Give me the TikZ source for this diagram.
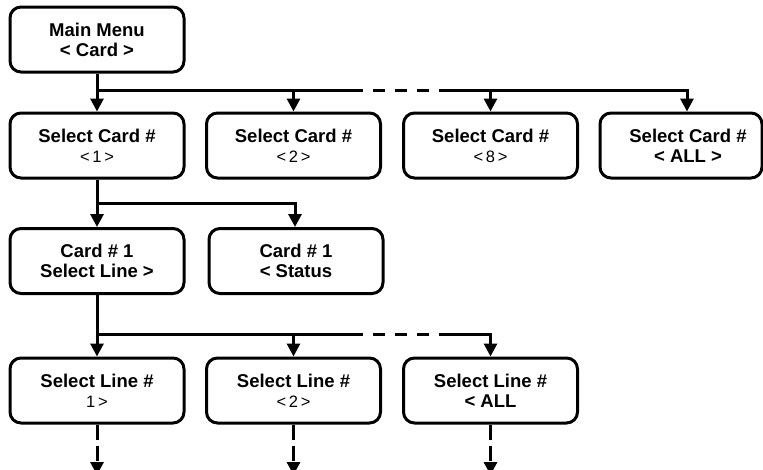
\documentclass[tikz,border=0pt]{standalone}
\usepackage{fontspec}
\setmainfont{Liberation Sans}
\usetikzlibrary{arrows.meta}
\newcommand\smallnum[1]{{\fontsize{16.5}{20}\selectfont\mdseries #1}}
\begin{document}
\begin{tikzpicture}[x=1pt,y=-1pt,
 box/.style={draw, line width=3pt, rounded corners=11pt, minimum width=174pt, minimum height=65pt, inner sep=0pt, align=center, font=\fontsize{18.5}{20}\selectfont\bfseries},
 txt/.style={inner sep=0pt, align=center, font=\fontsize{18.5}{20}\selectfont\bfseries},
 wire/.style={line width=3pt},
 dwire/.style={line width=3pt, dash pattern=on 12pt off 10pt, dash phase=12pt},
 arr/.style={line width=3pt, -{Triangle[width=13pt,length=13pt]}},
 darr/.style={line width=3pt, dash pattern=on 15pt off 6pt, -{Triangle[width=13pt,length=13pt]}}
]
\useasboundingbox (0,0) rectangle (763,469);
% nodes
\node[box] (main) at (97,39.5) {Main Menu\\< Card >};
\node[box] (r2a) at (97,145.5) {Select Card \#\\\smallnum{<\,1\,>}};
\node[box] (r2b) at (293.5,145.5) {Select Card \#\\\smallnum{<\,2\,>}};
\node[box] (r2c) at (490.5,145.5) {Select Card \#\\\smallnum{<\,8\,>}};
\node[box, minimum width=162pt] (r2d) at (681,145.5) {};
\node[txt] (r2dt) at (688,145.5) {Select Card \#\\< ALL >};
\node[box] (r3a) at (97,261) {Card \# 1\\Select Line >};
\node[box] (r3b) at (296,261) {Card \# 1\\< Status};
\node[box] (r4a) at (97,390.5) {Select Line \#\\\smallnum{1\,>}};
\node[box] (r4b) at (293.5,390.5) {Select Line \#\\\smallnum{<\,2\,>}};
\node[box] (r4c) at (490.5,390.5) {Select Line \#\\< ALL};
% bus 1
\coordinate (j1) at (97,90);
\coordinate (j1a) at (363,90);
\coordinate (j1b) at (442,90);
\coordinate (j1e) at (687,90);
\draw[wire] (main.south) -- (j1) -- (j1a);
\draw[dwire] (j1a) -- (j1b);
\draw[arr] (j1b) -- (j1e) -- (j1e |- r2d.north);
\draw[arr] (j1) -- (r2a.north);
\draw[arr] (r2b.north |- j1) -- (r2b.north);
\draw[arr] (r2c.north |- j1) -- (r2c.north);
% bus 2
\coordinate (j2) at (97,203);
\coordinate (j2e) at (295,203);
\draw[wire] (r2a.south) -- (j2);
\draw[arr] (j2) -- (j2e) -- (j2e |- r3b.north);
\draw[arr] (j2) -- (r3a.north);
% bus 3
\coordinate (j3) at (97,334);
\coordinate (j3a) at (363,334);
\coordinate (j3b) at (442,334);
\draw[wire] (r3a.south) -- (j3) -- (j3a);
\draw[dwire] (j3a) -- (j3b);
\draw[arr] (j3b) -- (r4c.north |- j3) -- (r4c.north);
\draw[arr] (j3) -- (r4a.north);
\draw[arr] (r4b.north |- j3) -- (r4b.north);
% continuation arrows
\coordinate (e1) at (97,475);
\draw[darr] (r4a.south) -- (r4a.south |- e1);
\draw[darr] (r4b.south) -- (r4b.south |- e1);
\draw[darr] (r4c.south) -- (r4c.south |- e1);
\end{tikzpicture}
\end{document}
